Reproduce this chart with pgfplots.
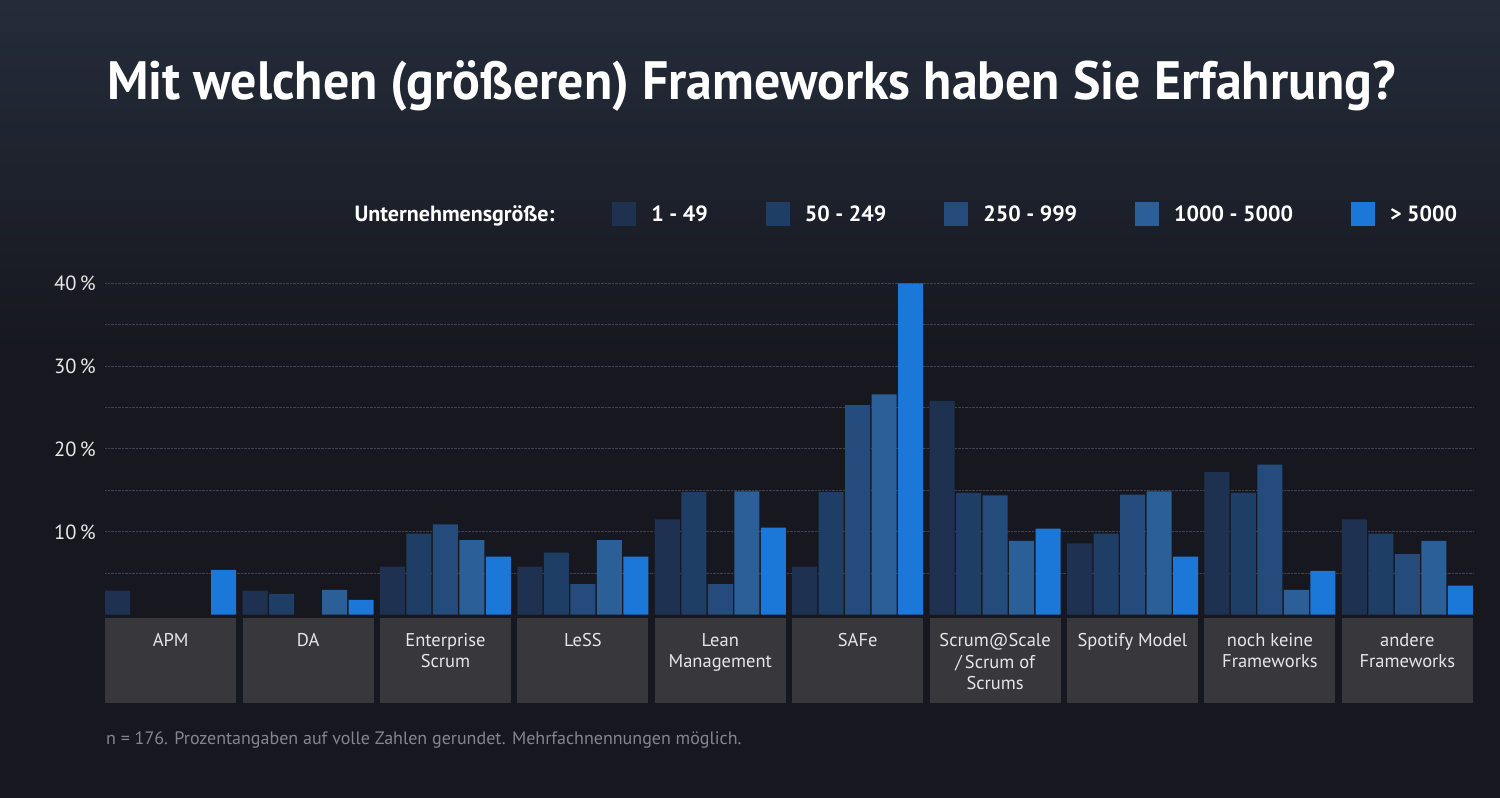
\documentclass[border=0pt]{standalone}
\usepackage{pgfplots}
\pgfplotsset{compat=1.18}
\usepackage{fontspec}
\setmainfont{PT Sans}
\newfontfamily\titlefont{PT Sans}[FakeStretch=0.96]
\definecolor{bg}{HTML}{17181F}
\definecolor{bgtop}{HTML}{242C3A}
\definecolor{catbox}{HTML}{37373C}
\definecolor{gridc}{HTML}{40434F}
\definecolor{labc}{HTML}{E6E6E6}
\definecolor{notec}{HTML}{85868D}
\definecolor{cA}{HTML}{1E3150}
\definecolor{cB}{HTML}{1F3E66}
\definecolor{cC}{HTML}{244B7B}
\definecolor{cD}{HTML}{2A5F98}
\definecolor{cE}{HTML}{1B78D8}
\pgfplotsset{sq legend/.style={legend image code/.code={\fill[##1] (0pt,-12pt) rectangle (24pt,12pt);}}}
\pgfplotstableread{
x  a    b    c    d    e
0  2.9  nan  nan  nan  5.4
1  2.9  2.5  nan  3.0  1.8
2  5.8  9.8  10.9 9.0  7.0
3  5.8  7.5  3.7  9.0  7.0
4  11.5 14.8 3.7  14.9 10.5
5  5.8  14.8 25.3 26.6 40.0
6  25.8 14.7 14.4 8.9  10.4
7  8.6  9.8  14.5 14.9 7.0
8  17.2 14.7 18.1 3.0  5.3
9  11.5 9.8  7.3  8.9  3.5
}\datatable
\begin{document}
\begin{tikzpicture}
\fill[bg] (0pt,0pt) rectangle (1500pt,798pt);
\shade[top color=bgtop, bottom color=bg] (0pt,450pt) rectangle (1500pt,798pt);
\node[anchor=base west, text=white, inner sep=0pt, font=\titlefont\fontsize{54}{60}\selectfont\bfseries] at (107pt,698pt) {Mit welchen (größeren) Frameworks haben Sie Erfahrung?};
\node[anchor=base west, text=notec, inner sep=0pt, font=\fontsize{18}{21}\selectfont] at (106pt,53pt) {n = 176. Prozentangaben auf volle Zahlen gerundet. Mehrfachnennungen möglich.};
\foreach \i in {0,...,9}{
  \pgfmathsetmacro\bx{105+(\i+0.478)*137.4-65.5}
  \fill[catbox] (\bx pt,179.8pt) rectangle ++(131pt,-85pt);
}
\begin{axis}[
  at={(105pt,183.3pt)}, anchor=south west,
  scale only axis, width=1368pt, height=331.4pt,
  xmin=-0.478, xmax=9.478, ymin=0, ymax=40,
  ybar=1.5pt, bar width=25pt,
  clip=false, unbounded coords=discard,
  axis line style={draw=none},
  tick style={draw=none},
  xtick={0,...,9},
  xticklabels={APM, DA, {Enterprise\\Scrum}, LeSS, {Lean\\Management}, SAFe, {Scrum@Scale\\/\,Scrum of\\Scrums}, {Spotify Model}, {noch keine\\Frameworks}, {andere\\Frameworks}},
  xticklabel style={anchor=north, align=center, inner sep=0pt, yshift=-14pt, text=labc, font=\fontsize{18.5}{21.7}\selectfont},
  ytick={10,20,30,40}, yticklabels={10\,\%,20\,\%,30\,\%,40\,\%},
  yticklabel style={anchor=east, inner sep=0pt, xshift=-9pt, text=labc, font=\fontsize{20.5}{24}\selectfont},
  minor ytick={5,15,25,35},
  ymajorgrids, yminorgrids,
  major grid style={densely dotted, gridc, line width=1pt},
  minor grid style={densely dotted, gridc, line width=1pt},
  legend columns=-1,
  legend style={draw=none, fill=none, inner sep=0pt, at={(axis description cs:0.990,1.209)}, anchor=east, text=white, font=\fontsize{22}{26}\selectfont\bfseries,
    /tikz/every even column/.append style={column sep=56pt},
    /tikz/every odd column/.append style={column sep=13pt}},
]
\addlegendimage{empty legend}\addlegendentry{Unternehmensgröße:\hspace{7pt}}
\addplot[fill=cA, draw=none, sq legend] table[x=x, y=a] {\datatable};\addlegendentry{1 - 49\hspace{11pt}}
\addplot[fill=cB, draw=none, sq legend] table[x=x, y=b] {\datatable};\addlegendentry{50 - 249\hspace{4pt}}
\addplot[fill=cC, draw=none, sq legend] table[x=x, y=c] {\datatable};\addlegendentry{250 - 999}
\addplot[fill=cD, draw=none, sq legend] table[x=x, y=d] {\datatable};\addlegendentry{1000 - 5000\hspace{-20pt}}
\addplot[fill=cE, draw=none, sq legend] table[x=x, y=e] {\datatable};\addlegendentry{> 5000}
\end{axis}
\pgfresetboundingbox
\path[use as bounding box] (0pt,0pt) rectangle (1500pt,798pt);
\end{tikzpicture}
\end{document}
